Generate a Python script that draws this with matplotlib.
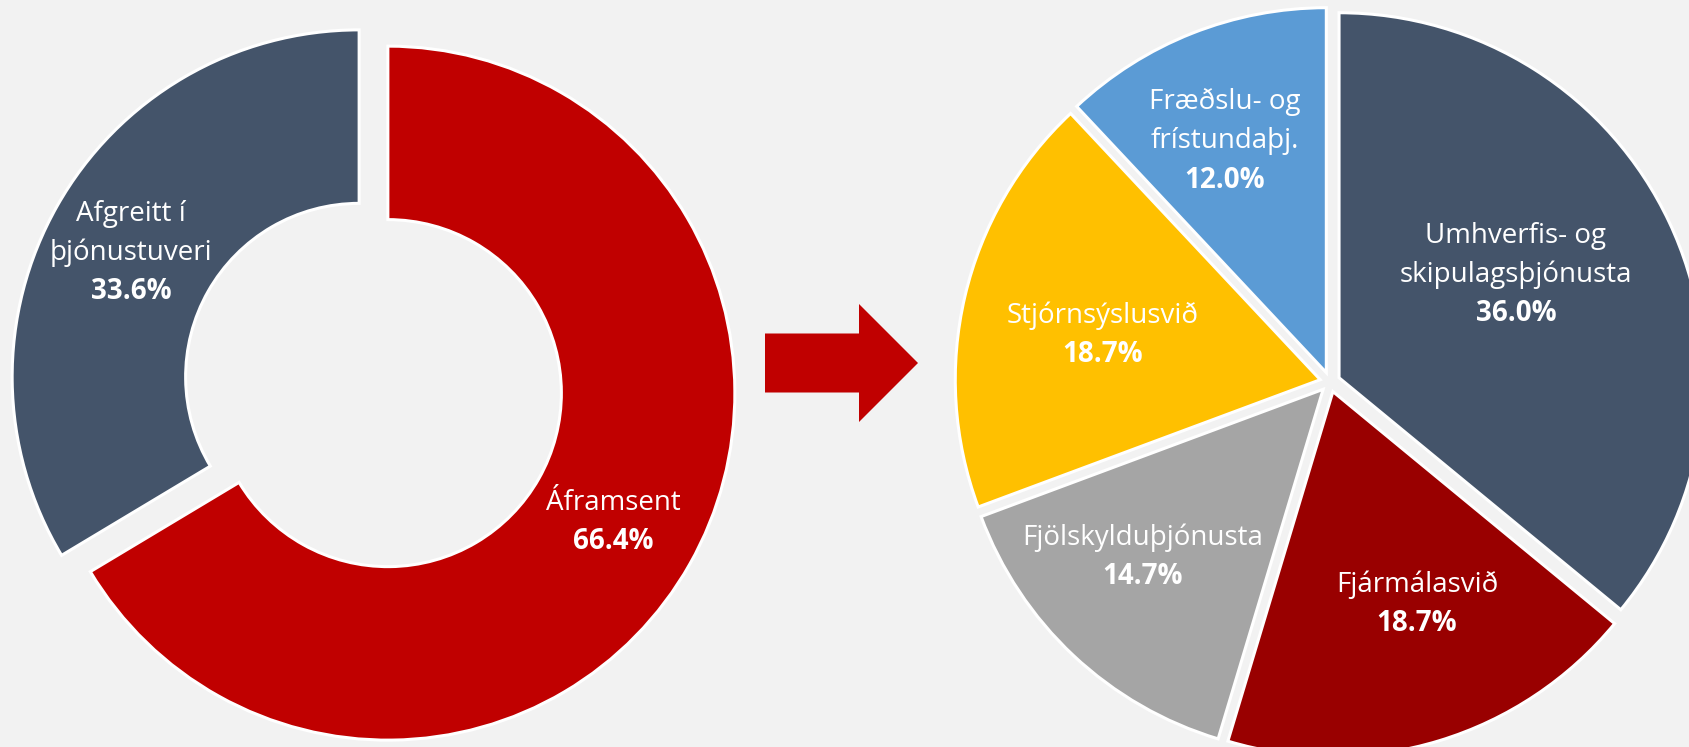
import matplotlib.pyplot as plt
from matplotlib.patches import FancyArrow

# data
left_names = ["Áframsent", "Afgreitt í\nþjónustuveri"]
left_values = [66.4, 33.6]
left_colors = ["#c00000", "#44546a"]

right_names = ["Umhverfis- og\nskipulagsþjónusta", "Fjármálasvið", "Fjölskylduþjónusta",
               "Stjórnsýslusvið", "Fræðslu- og\nfrístundaþj."]
right_values = [36.0, 18.7, 14.7, 18.7, 12.0]
right_colors = ["#44546a", "#990000", "#a5a5a5", "#ffc000", "#5b9bd5"]

BG = "#f2f2f2"
W, H = 1690, 747
FONT = ["Open Sans", "DejaVu Sans"]

fig = plt.figure(figsize=(W / 100, H / 100), dpi=100, facecolor=BG)
ax = fig.add_axes([0, 0, 1, 1])
ax.set_facecolor(BG)

# left donut
lc, lr = (373.5, 362), 347
ax.pie(left_values, colors=left_colors, startangle=90, counterclock=False,
       radius=lr, center=lc, explode=[16.5] * len(left_values),
       wedgeprops=dict(width=lr * 0.5, edgecolor="white", linewidth=2.2))

# right pie
rc, rr = (1330, 365), 365
ax.pie(right_values, colors=right_colors, startangle=90, counterclock=False,
       radius=rr, center=rc, explode=[10] * len(right_values),
       wedgeprops=dict(edgecolor="white", linewidth=2.2))

# label block centres, offset from each pie centre (pixels)
left_label_off = [(239.5, -137), (-242.5, 132)]
right_label_off = [(186, 107), (87, -222), (-187, -175), (-227, 47), (-105, 241)]

LINE = 39


def put_label(center, off, name, value):
    lines = name.split("\n")
    n = len(lines) + 1
    x = center[0] + off[0]
    y0 = center[1] + off[1] + LINE * (n - 1) / 2
    for i, s in enumerate(lines):
        ax.text(x, y0 - i * LINE, s, ha="center", va="center", color="white",
                fontsize=20, family=FONT)
    ax.text(x, y0 - (n - 1) * LINE, f"{value:.1f}%", ha="center", va="center",
            color="white", fontsize=20, fontweight="bold", family=FONT)


for name, v, off in zip(left_names, left_values, left_label_off):
    put_label(lc, off, name, v)
for name, v, off in zip(right_names, right_values, right_label_off):
    put_label(rc, off, name, v)

# arrow between the charts
ax.add_patch(FancyArrow(765, H - 363, 153, 0, width=59, head_width=118,
                        head_length=59, length_includes_head=True,
                        color="#c00000", linewidth=0))

ax.set_xlim(0, W)
ax.set_ylim(0, H)
ax.set_aspect("equal")
ax.axis("off")

fig.savefig("out.png", dpi=100, facecolor=BG)
